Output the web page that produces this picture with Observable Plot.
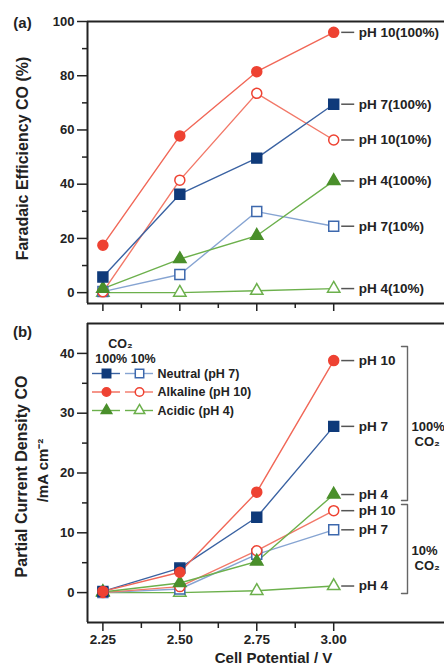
<!DOCTYPE html>
<html><head><meta charset="utf-8">
<script src="https://cdn.jsdelivr.net/npm/d3@7"></script>
<script src="https://cdn.jsdelivr.net/npm/@observablehq/plot@0.6"></script>
<style>
body{margin:0;background:#fff;}
#wrap{position:relative;width:444px;height:665px;overflow:hidden;}
#wrap svg{position:absolute;left:0;overflow:visible;}
</style></head><body><div id="wrap"></div>
<script>
// ---------- data ----------
const potentials = [2.25, 2.50, 2.75, 3.00];
const xTicks = [2.25, 2.50, 2.75, 3.00];
const xMinorTicks = [2.375, 2.625, 2.875];

// Faradaic efficiency CO (%)
const fe_pH10_100 = [17.5, 57.8, 81.5, 96.0];
const fe_pH10_10  = [0.3, 41.5, 73.5, 56.3];
const fe_pH7_100  = [5.8, 36.3, 49.6, 69.5];
const fe_pH7_10   = [0.4, 6.7, 29.9, 24.5];
const fe_pH4_100  = [1.5, 12.4, 21.0, 41.2];
const fe_pH4_10   = [0.0, 0.0, 0.7, 1.5];

// Partial current density CO (mA cm-2)
const j_pH10_100 = [0.2, 3.4, 16.8, 38.8];
const j_pH7_100  = [0.2, 4.1, 12.6, 27.8];
const j_pH4_100  = [0.1, 1.6, 5.2, 16.4];
const j_pH10_10  = [0.0, 1.0, 7.0, 13.7];
const j_pH7_10   = [0.0, 0.6, 6.4, 10.5];
const j_pH4_10   = [0.0, 0.0, 0.3, 1.1];

const feTicks = [0, 20, 40, 60, 80, 100];
const feMinorTicks = [10, 30, 50, 70, 90];
const jTicks = [0, 10, 20, 30, 40];
const jMinorTicks = [5, 15, 25, 35];

const feLabels = ["pH 10(100%)", "pH 7(100%)", "pH 4(100%)", "pH 10(10%)", "pH 7(10%)", "pH 4(10%)"];
const jLabels  = ["pH 10", "pH 7", "pH 4", "pH 10", "pH 7", "pH 4"];
const legendNames = ["Neutral (pH 7)", "Alkaline (pH 10)", "Acidic (pH 4)"];

// ---------- styles ----------
const seriesIds = ["pH10-100", "pH7-100", "pH4-100", "pH10-10", "pH7-10", "pH4-10"];
const feValues = [fe_pH10_100, fe_pH7_100, fe_pH4_100, fe_pH10_10, fe_pH7_10, fe_pH4_10];
const jValues  = [j_pH10_100, j_pH7_100, j_pH4_100, j_pH10_10, j_pH7_10, j_pH4_10];
const styles = {
  "pH10-100": {symbol: "circle",   color: "#ee4232", line: "#f16757", filled: true,  r: 5},
  "pH7-100":  {symbol: "square",   color: "#0f3a7a", line: "#3a62a2", filled: true,  r: 5.6},
  "pH4-100":  {symbol: "triangle", color: "#4a8f2b", line: "#6cb04c", filled: true,  r: 4.6},
  "pH10-10":  {symbol: "circle",   color: "#ee4232", line: "#f27868", filled: false, r: 5},
  "pH7-10":   {symbol: "square",   color: "#3d68ad", line: "#86a4d2", filled: false, r: 5.6},
  "pH4-10":   {symbol: "triangle", color: "#6cb04c", line: "#6cb04c", filled: false, r: 4.6}
};
const drawOrder = ["pH4-10", "pH7-10", "pH10-10", "pH4-100", "pH7-100", "pH10-100"];

const FONT = '"Liberation Sans", Arial, sans-serif';
const INK = "#222";

// ---------- layout ----------
const W = 444, mL = 87;
const xDomain = [2.2, 3.36];
const xPage = d3.scaleLinear(xDomain, [mL, W]);
const X = px => xPage.invert(px);

const topH = 312, topMT = 21, topMB = 9;
const feDomain = [-4, 100];
const yTopPage = d3.scaleLinear(feDomain, [topH - topMB, topMT]);
const YT = py => yTopPage.invert(py);

const botTop = 312, botH = 353, botMT = 11, botMB = 43;
const jDomain = [-5, 45];
const yBotPage = d3.scaleLinear(jDomain, [botTop + botH - botMB, botTop + botMT]);
const YB = py => yBotPage.invert(py);

function seriesMarks(values, labels) {
  const marks = [];
  const rowsOf = i => potentials.map((x, k) => ({x, y: values[i][k]}));
  for (const id of drawOrder) {
    const i = seriesIds.indexOf(id), st = styles[id];
    marks.push(Plot.line(rowsOf(i), {x: "x", y: "y", stroke: st.line, strokeWidth: 1.4}));
  }
  for (const id of drawOrder) {
    const i = seriesIds.indexOf(id), st = styles[id];
    marks.push(Plot.dot(rowsOf(i), {x: "x", y: "y", symbol: st.symbol, r: st.r,
      fill: st.filled ? st.color : "white", stroke: st.color, strokeWidth: 1.5}));
  }
  const xEnd = potentials[potentials.length - 1];
  const ends = seriesIds.map((id, i) => ({
    x: xEnd, y: values[i][values[i].length - 1], text: labels[i],
    x1: X(xPage(xEnd) + 8), x2: X(xPage(xEnd) + 21)
  }));
  marks.push(Plot.ruleY(ends, {y: "y", x1: "x1", x2: "x2", stroke: "#555", strokeWidth: 1.5}));
  marks.push(Plot.text(ends, {x: "x", y: "y", text: "text", dx: 25, textAnchor: "start",
    fontSize: 13.5, fontWeight: "bold", fill: INK}));
  return marks;
}

const wrap = document.getElementById("wrap");

// ---------- top panel ----------
const topPlot = Plot.plot({
  width: W, height: topH,
  marginLeft: mL, marginRight: 0, marginTop: topMT, marginBottom: topMB,
  style: {fontFamily: FONT, fontSize: "13px", fontWeight: "bold", color: INK, background: "transparent"},
  x: {domain: xDomain},
  y: {domain: feDomain},
  marks: [
    Plot.axisY(feTicks, {tickSize: 10, tickPadding: 3, strokeWidth: 1.5, label: null}),
    Plot.axisY(feMinorTicks, {tickSize: 5, strokeWidth: 1.5, tickFormat: () => "", label: null}),
    Plot.axisX(xTicks, {tickSize: 8, strokeWidth: 1.5, tickFormat: () => "", label: null}),
    Plot.axisX(xMinorTicks, {tickSize: 5, strokeWidth: 1.5, tickFormat: () => "", label: null}),
    Plot.ruleY([feDomain[1]], {strokeWidth: 2, stroke: INK}),
    Plot.ruleY([feDomain[0]], {strokeWidth: 2, stroke: INK}),
    Plot.ruleX([xDomain[0]], {strokeWidth: 2, stroke: INK}),
    ...seriesMarks(feValues, feLabels),
    Plot.text(["Faradaic Efficiency CO (%)"], {x: X(22), y: YT(158), rotate: -90,
      fontSize: 16, fontWeight: "bold", fill: INK}),
    Plot.text(["(a)"], {x: X(22), y: YT(23), fontSize: 15, fontWeight: "bold", fill: INK})
  ]
});
topPlot.style.top = "0px";
wrap.appendChild(topPlot);

// ---------- bottom panel ----------
const by = py => YB(py);
const legendRows = [373, 391.5, 410];
const legendIds = [["pH7-100", "pH7-10"], ["pH10-100", "pH10-10"], ["pH4-100", "pH4-10"]];
const legendMarks = [];
legendIds.forEach(([fid, oid], i) => {
  const yv = by(legendRows[i]);
  const f = styles[fid], o = styles[oid];
  legendMarks.push(Plot.ruleY([yv], {x1: X(92), x2: X(120), stroke: f.line, strokeWidth: 1.4}));
  legendMarks.push(Plot.ruleY([yv], {x1: X(125), x2: X(153), stroke: o.line, strokeWidth: 1.4}));
  legendMarks.push(Plot.dot([{x: X(106), y: yv}], {x: "x", y: "y", symbol: f.symbol, r: f.r * 0.85,
    fill: f.color, stroke: f.color, strokeWidth: 1.5}));
  legendMarks.push(Plot.dot([{x: X(139), y: yv}], {x: "x", y: "y", symbol: o.symbol, r: o.r * 0.85,
    fill: "white", stroke: o.color, strokeWidth: 1.5}));
  legendMarks.push(Plot.text([legendNames[i]], {x: X(157), y: yv, textAnchor: "start",
    fontSize: 12.5, fontWeight: "bold", fill: INK}));
});
legendMarks.push(Plot.text(["CO₂"], {x: X(120), y: by(343), fontSize: 12.5, fontWeight: "bold", fill: INK}));
legendMarks.push(Plot.text(["100% 10%"], {x: X(125), y: by(358), fontSize: 12.5, fontWeight: "bold", fill: INK}));

const bracket = (y1, y2) => [
  Plot.line([{x: X(401), y: by(y1)}, {x: X(407), y: by(y1)}, {x: X(407), y: by(y2)}, {x: X(401), y: by(y2)}],
    {x: "x", y: "y", stroke: "#666", strokeWidth: 1.4, curve: "linear"})
];

const bottomPlot = Plot.plot({
  width: W, height: botH,
  marginLeft: mL, marginRight: 0, marginTop: botMT, marginBottom: botMB,
  style: {fontFamily: FONT, fontSize: "13px", fontWeight: "bold", color: INK, background: "transparent"},
  x: {domain: xDomain},
  y: {domain: jDomain},
  marks: [
    Plot.axisY(jTicks, {tickSize: 10, tickPadding: 3, strokeWidth: 1.5, label: null}),
    Plot.axisY(jMinorTicks, {tickSize: 5, strokeWidth: 1.5, tickFormat: () => "", label: null}),
    Plot.axisX(xTicks, {tickSize: 9, tickPadding: 3, strokeWidth: 1.5, tickFormat: d3.format(".2f"), label: null, fontSize: 13.5}),
    Plot.axisX(xMinorTicks, {tickSize: 6, strokeWidth: 1.5, tickFormat: () => "", label: null}),
    Plot.ruleY([jDomain[1]], {strokeWidth: 2, stroke: INK}),
    Plot.ruleY([jDomain[0]], {strokeWidth: 2, stroke: INK}),
    Plot.ruleX([xDomain[0]], {strokeWidth: 2, stroke: INK}),
    ...seriesMarks(jValues, jLabels),
    ...legendMarks,
    ...bracket(346, 500),
    ...bracket(504, 593),
    Plot.text(["100%"], {x: X(411), y: by(426), textAnchor: "start", fontSize: 13, fontWeight: "bold", fill: INK}),
    Plot.text(["CO₂"], {x: X(414), y: by(441), textAnchor: "start", fontSize: 13, fontWeight: "bold", fill: INK}),
    Plot.text(["10%"], {x: X(411), y: by(550), textAnchor: "start", fontSize: 13, fontWeight: "bold", fill: INK}),
    Plot.text(["CO₂"], {x: X(414), y: by(565), textAnchor: "start", fontSize: 13, fontWeight: "bold", fill: INK}),
    Plot.text(["Partial Current Density CO"], {x: X(21), y: by(476), rotate: -90,
      fontSize: 16, fontWeight: "bold", fill: INK}),
    Plot.text(["/mA cm⁻²"], {x: X(43), y: by(470), rotate: -90,
      fontSize: 15, fontWeight: "bold", fill: INK}),
    Plot.text(["(b)"], {x: X(22), y: by(332), fontSize: 15, fontWeight: "bold", fill: INK}),
    Plot.text(["Cell Potential / V"], {x: X(273), y: by(657.5), fontSize: 15, fontWeight: "bold", fill: INK})
  ]
});
bottomPlot.style.top = botTop + "px";
wrap.appendChild(bottomPlot);
</script>
</body></html>
